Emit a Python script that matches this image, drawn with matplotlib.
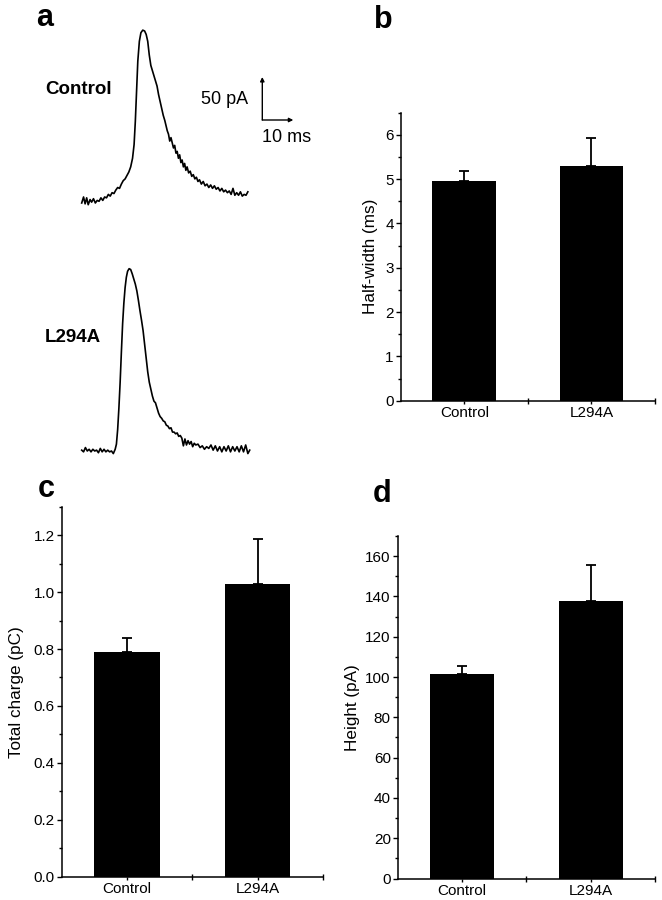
import matplotlib

matplotlib.use('Agg')
import matplotlib.pyplot as plt
from matplotlib.ticker import MultipleLocator, FixedLocator, FormatStrFormatter

plt.rcParams['font.family'] = ['Liberation Sans', 'DejaVu Sans']

# --- data ---
groups = ['Control', 'L294A']

half_width = [4.96, 5.29]
half_width_err = [0.22, 0.65]

total_charge = [0.79, 1.03]
total_charge_err = [0.05, 0.155]

height = [101.3, 137.8]
height_err = [4.0, 17.6]

# example traces (time in ms, current in pA)
control_t = [0.0, 0.6, 1.1, 1.6, 2.1, 2.7, 3.2, 3.8, 4.4, 5.0, 5.6, 6.2, 6.8, 7.4, 8.0,
             8.6, 9.2, 9.8, 10.4, 11.0, 11.6, 12.2, 12.8, 13.4, 14.0, 14.6, 15.2, 15.8,
             16.4, 16.9, 17.3, 17.7, 18.1, 18.6, 19.1, 19.7, 20.3, 20.8, 21.3, 21.8,
             22.3, 22.8, 23.3, 23.8, 24.3, 24.8, 25.3, 25.8, 26.3, 26.8, 27.2, 27.6,
             28.0, 28.4, 28.8, 29.2, 29.6, 30.0, 30.4, 30.8, 31.2, 31.6, 32.0, 32.4,
             32.8, 33.2, 33.6, 34.0, 34.5, 35.0, 35.5, 36.0, 36.5, 37.0, 37.5, 38.0,
             38.6, 39.2, 39.8, 40.4, 41.0, 41.6, 42.2, 42.8, 43.4, 44.0, 44.6, 45.2,
             45.8, 46.4, 47.0, 47.6, 48.2, 48.8, 49.4, 50.0, 50.6, 51.2, 51.8, 52.4,
             53.0, 53.6]
control_i = [0, 7, -1, 6, -2, 4, 1, 5, 0, 3, 2, 6, 3, 7, 6,
             10, 8, 12, 11, 15, 18, 17, 22, 26, 28, 32, 36, 42,
             52, 68, 95, 130, 165, 188, 198, 201, 200, 196, 188, 172,
             160, 154, 148, 142, 136, 126, 118, 110, 102, 96, 90, 84,
             80, 72, 76, 70, 64, 67, 58, 60, 52, 56, 47, 50,
             42, 46, 38, 42, 35, 37, 31, 33, 28, 30, 25, 27,
             22, 25, 20, 22, 18, 21, 17, 20, 16, 18, 14, 17,
             13, 15, 12, 14, 10, 17, 9, 12, 9, 13, 8, 10,
             9, 13]

mutant_t = [0.0, 0.6, 1.2, 1.8, 2.4, 3.0, 3.6, 4.2, 4.8, 5.4, 6.0, 6.6, 7.2, 7.8, 8.4,
            9.0, 9.6, 10.2, 10.8, 11.2, 11.6, 12.0, 12.4, 12.8, 13.2, 13.6, 14.0, 14.4,
            14.8, 15.3, 15.8, 16.3, 16.8, 17.3, 17.8, 18.3, 18.8, 19.3, 19.8, 20.3,
            20.8, 21.3, 21.8, 22.3, 22.8, 23.3, 23.8, 24.3, 24.8, 25.3, 25.8, 26.3,
            26.8, 27.3, 27.8, 28.3, 28.8, 29.3, 29.8, 30.3, 30.8, 31.3, 31.8, 32.3,
            32.8, 33.3, 33.8, 34.3, 34.8, 35.3, 35.8, 36.3, 36.8, 37.5, 38.2, 38.9,
            39.6, 40.3, 41.0, 41.7, 42.4, 43.1, 43.8, 44.5, 45.2, 45.9, 46.6, 47.3,
            48.0, 48.7, 49.4, 50.1, 50.8, 51.5, 52.2, 52.9, 53.6, 54.2]
mutant_i = [1, -1, 4, 0, 2, -1, 2, 0, 1, -2, 3, -1, 2, -1, 1,
            -1, 0, -3, 2, 8, 25, 50, 80, 115, 148, 172, 190, 202,
            209, 212, 211, 206, 200, 194, 186, 175, 163, 152, 140, 124,
            108, 92, 80, 72, 64, 58, 56, 50, 44, 40, 38, 35,
            34, 30, 29, 26, 27, 22, 22, 20, 21, 17, 18, 15,
            6, 14, 7, 12, 8, 11, 5, 9, 7, 8, 4, 6,
            2, 5, 3, 7, 1, 6, 0, 5, -1, 5, 0, 6,
            -1, 5, 0, 5, -1, 6, -1, 7, -3, 1]

W, H = 662, 900
fig = plt.figure(figsize=(W / 100, H / 100), dpi=100)


def rect(left, top, right, bottom):
    return [left / W, 1 - bottom / H, (right - left) / W, (bottom - top) / H]


def fxy(x, y):
    return x / W, 1 - y / H


# --- panel a: traces ---
ax_a = fig.add_axes(rect(0, 0, 330, 460))
ax_a.axis('off')
ms_per_px = 10 / 31
pa_per_px = 50 / 43
ax_a.set_xlim(-81.7 * ms_per_px, (330 - 81.7) * ms_per_px)
ax_a.set_ylim((451 - 460) * pa_per_px, 451 * pa_per_px)
offset = (451 - 203) * pa_per_px
ax_a.plot(control_t, [v + offset for v in control_i], color='black', lw=1.2)
ax_a.plot(mutant_t, mutant_i, color='black', lw=1.2)

# scale bar
sx = (262.3 - 81.7) * ms_per_px
sy = (451 - 120) * pa_per_px
arrow = dict(arrowstyle='-|>', color='black', lw=1.0, mutation_scale=6,
             shrinkA=0, shrinkB=0)
ax_a.annotate('', xy=(sx, sy + 50), xytext=(sx, sy), arrowprops=arrow)
ax_a.annotate('', xy=(sx + 10, sy), xytext=(sx, sy), arrowprops=arrow)

fig.text(*fxy(248, 99), '50 pA', ha='right', va='center', fontsize=13)
fig.text(*fxy(262, 137), '10 ms', ha='left', va='center', fontsize=13)
fig.text(*fxy(45, 89), 'Control', ha='left', va='center', fontsize=13.5,
         fontweight='bold')
fig.text(*fxy(45, 337), 'L294A', ha='left', va='center', fontsize=13.5,
         fontweight='bold')

# panel letters
for letter, x, y in [('a', 36, 26), ('b', 374, 28), ('c', 38, 497), ('d', 373, 502)]:
    fig.text(*fxy(x, y), letter, ha='left', va='baseline', fontsize=22,
             fontweight='bold')


# --- bar panels ---
def bar_panel(pos, values, errs, ylim, major, minor, ylabel, labelpad):
    ax = fig.add_axes(rect(*pos))
    x = list(range(len(groups)))
    ax.bar(x, values, width=0.5, color='black', zorder=2)
    ax.errorbar(x, values, yerr=[[0] * len(errs), errs], fmt='none',
                ecolor='black', elinewidth=1.3, capsize=3.5, capthick=1.3, zorder=1)
    ax.set_xlim(-0.5, 1.5)
    ax.set_ylim(*ylim)
    ax.spines['top'].set_visible(False)
    ax.spines['right'].set_visible(False)
    ax.spines['left'].set_linewidth(1.1)
    ax.spines['bottom'].set_linewidth(1.1)
    ax.set_xticks(x)
    ax.set_xticklabels(groups, fontsize=11)
    ax.xaxis.set_minor_locator(FixedLocator([0.5, 1.5]))
    ax.yaxis.set_major_locator(MultipleLocator(major))
    ax.yaxis.set_minor_locator(MultipleLocator(minor))
    ax.tick_params(axis='x', which='major', length=2.5, width=1, pad=1.5)
    ax.tick_params(axis='x', which='minor', length=4, width=1, direction='inout')
    ax.tick_params(axis='y', which='major', length=3.5, width=1, pad=1.5,
                   labelsize=11)
    ax.tick_params(axis='y', which='minor', length=2, width=1)
    ax.set_ylabel(ylabel, fontsize=12.3, labelpad=labelpad)
    return ax


bar_panel((400.7, 112.7, 655, 400.7), half_width, half_width_err, (0, 6.5), 1, 0.5,
          'Half-width (ms)', 5)
ax_c = bar_panel((61.7, 506.7, 323, 876.7), total_charge, total_charge_err, (0, 1.3),
                 0.2, 0.1, 'Total charge (pC)', 7)
ax_c.yaxis.set_major_formatter(FormatStrFormatter('%.1f'))
bar_panel((397.7, 536, 655, 878.5), height, height_err, (0, 170), 20, 10,
          'Height (pA)', 3.5)

fig.savefig('out.png', dpi=100)
